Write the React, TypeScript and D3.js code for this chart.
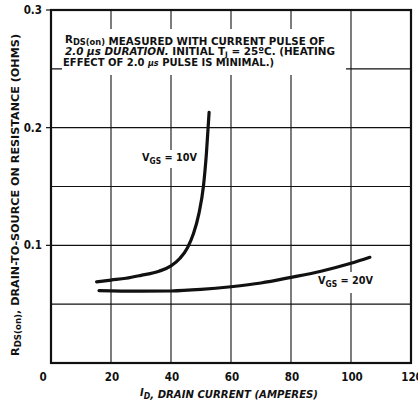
import React from "react";
import * as d3 from "d3";

const xTicks = [0, 20, 40, 60, 80, 100, 120];
const yTickLabels = [0.1, 0.2, 0.3];
const yGrid = [0.05, 0.1, 0.15, 0.2, 0.25];
const xGrid = [20, 40, 60, 80, 100];

const vgs10I = [15.2, 20, 25, 30, 36, 40, 43, 45.5, 47.5, 49.3, 50.8, 51.8, 52.7];
const vgs10R = [0.069, 0.0705, 0.072, 0.0745, 0.078, 0.0825, 0.089, 0.098, 0.11, 0.127, 0.15, 0.178, 0.213];
const vgs20I = [16, 20, 30, 40, 50, 60, 70, 80, 90, 100, 106.3];
const vgs20R = [0.0615, 0.0613, 0.061, 0.0612, 0.0625, 0.0648, 0.068, 0.0728, 0.078, 0.0847, 0.0898];

const FONT = "'Liberation Sans Narrow', 'DejaVu Sans Condensed', 'Liberation Sans', Arial, sans-serif";

export default function App() {
  const x = d3.scaleLinear().domain([0, 120]).range([51, 411]);
  const y = d3.scaleLinear().domain([0, 0.3]).range([363, 10]);
  const line = d3
    .line<[number, number]>()
    .x((d) => x(d[0]))
    .y((d) => y(d[1]))
    .curve(d3.curveMonotoneX);
  const d10 = line(vgs10I.map((v, i) => [v, vgs10R[i]] as [number, number])) || "";
  const d20 = line(vgs20I.map((v, i) => [v, vgs20R[i]] as [number, number])) || "";
  const ink = "#111";

  return (
    <svg
      width={418}
      height={407}
      style={{ position: "absolute", left: 0, top: 0, background: "#fff" }}
      fontFamily={FONT}
      fontWeight="bold"
      fill={ink}
    >
      <rect x={0} y={0} width={418} height={407} fill="#fff" />
      {/* grid */}
      {xGrid.map((v) => (
        <line key={"gx" + v} x1={x(v)} x2={x(v)} y1={y(0.3)} y2={y(0)} stroke={ink} strokeWidth={1.1} />
      ))}
      {yGrid.map((v) => (
        <line key={"gy" + v} x1={x(0)} x2={x(120)} y1={y(v)} y2={y(v)} stroke={ink} strokeWidth={1.1} />
      ))}
      {/* white backgrounds for annotations */}
      <rect x={62} y={29} width={284} height={46} fill="#fff" />
      <rect x={140} y={150} width={60} height={18} fill="#fff" />
      <rect x={316} y={272} width={60} height={21} fill="#fff" />
      {/* frame */}
      <rect x={x(0)} y={y(0.3)} width={x(120) - x(0)} height={y(0) - y(0.3)} fill="none" stroke={ink} strokeWidth={2.2} />
      {/* y ticks */}
      {yTickLabels.map((v) => (
        <g key={"yt" + v}>
          <line x1={x(0) - 5} x2={x(0)} y1={y(v)} y2={y(v)} stroke={ink} strokeWidth={1.2} />
          <text x={42} y={y(v)} dy="0.36em" textAnchor="end" fontSize={11.5}>
            {v.toFixed(1)}
          </text>
        </g>
      ))}
      {/* x tick labels */}
      {xTicks.map((v) => (
        <text key={"xt" + v} x={x(v) + (v === 0 ? -8 : 1)} y={381} textAnchor="middle" fontSize={11.5}>
          {v}
        </text>
      ))}
      {/* curves */}
      <path d={d10} fill="none" stroke={ink} strokeWidth={3.2} strokeLinecap="round" />
      <path d={d20} fill="none" stroke={ink} strokeWidth={3.2} strokeLinecap="round" />
      {/* curve labels */}
      <text x={142} y={161} fontSize={11} textLength={55} lengthAdjust="spacingAndGlyphs">
        V<tspan fontSize={8.5} dy={3}>GS</tspan>
        <tspan dy={-3}> = 10V</tspan>
      </text>
      <text x={318} y={284} fontSize={11} textLength={55} lengthAdjust="spacingAndGlyphs">
        V<tspan fontSize={8.5} dy={3}>GS</tspan>
        <tspan dy={-3}> = 20V</tspan>
      </text>
      {/* annotation */}
      <text x={65} y={45} fontSize={10.5} textLength={260} lengthAdjust="spacingAndGlyphs">
        <tspan dy={-2}>R</tspan>
        <tspan fontSize={8.5} dy={2}>DS(on)</tspan>
        <tspan> MEASURED WITH CURRENT PULSE OF</tspan>
      </text>
      <text x={65} y={55} fontSize={10.5} textLength={270} lengthAdjust="spacingAndGlyphs">
        <tspan fontStyle="italic">2.0 μs DURATION.</tspan>
        <tspan>  INITIAL T</tspan>
        <tspan fontSize={7.5} dy={2}>J</tspan>
        <tspan dy={-2}> = 25ºC.  (HEATING</tspan>
      </text>
      <text x={63} y={65.5} fontSize={10.5} textLength={211} lengthAdjust="spacingAndGlyphs">
        EFFECT OF 2.0 <tspan fontStyle="italic" fontSize={8.5}>μs</tspan> PULSE IS MINIMAL.)
      </text>
      {/* axis titles */}
      <text
        transform="translate(19,195) rotate(-90)"
        textAnchor="middle"
        fontSize={11}
        textLength={322}
        lengthAdjust="spacingAndGlyphs"
      >
        R<tspan fontSize={8.5} dy={2}>DS(on)</tspan>
        <tspan dy={-2}>, DRAIN-TO-SOURCE ON RESISTANCE (OHMS)</tspan>
      </text>
      <text x={140} y={398} fontSize={11} fontStyle="italic" textLength={178} lengthAdjust="spacingAndGlyphs">
        <tspan dy={-2}>I</tspan>
        <tspan fontSize={8.5} dy={3}>D</tspan>
        <tspan dy={-1}>, DRAIN CURRENT (AMPERES)</tspan>
      </text>
    </svg>
  );
}
